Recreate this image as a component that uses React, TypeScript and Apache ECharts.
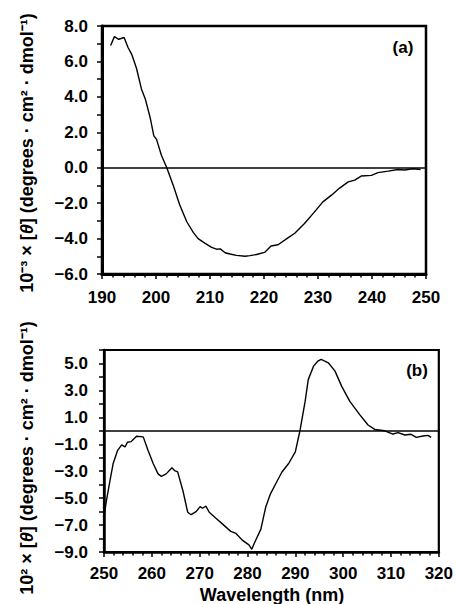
import React, { useEffect, useRef } from "react";
import * as echarts from "echarts";

const aWavelength = [191.6, 192.3, 193.1, 194.1, 194.8, 195.5, 196.4, 197.3, 198.0, 198.9, 199.6, 200.1, 201.0, 202.0, 203.2, 204.4, 205.7, 206.9, 207.8, 209.1, 210.3, 211.2, 211.9, 212.8, 213.7, 214.9, 216.5, 217.4, 218.6, 220.1, 221.3, 222.6, 224.5, 225.7, 227.5, 229.2, 230.9, 232.5, 234.0, 235.6, 236.8, 238.0, 239.9, 241.1, 243.0, 244.8, 246.0, 247.6, 249.0];
const aTheta = [6.9, 7.4, 7.25, 7.35, 6.8, 6.4, 5.6, 4.45, 3.9, 2.85, 1.8, 1.6, 0.7, 0.0, -1.0, -2.1, -3.05, -3.65, -4.0, -4.27, -4.5, -4.6, -4.58, -4.8, -4.87, -4.95, -5.0, -4.96, -4.9, -4.78, -4.42, -4.35, -3.95, -3.7, -3.15, -2.55, -1.93, -1.55, -1.15, -0.8, -0.7, -0.47, -0.43, -0.28, -0.19, -0.1, -0.13, -0.06, -0.1];

const bWavelength = [250.0, 250.5, 251.25, 251.9, 252.85, 253.7, 254.4, 254.9, 255.7, 256.8, 258.2, 259.2, 260.3, 261.3, 262.0, 263.0, 264.2, 264.75, 265.4, 266.5, 267.5, 268.2, 269.25, 270.1, 270.6, 271.3, 272.0, 273.4, 274.8, 276.5, 277.6, 278.9, 280.3, 280.9, 281.4, 282.8, 283.8, 284.8, 285.9, 287.2, 288.6, 290.0, 291.0, 292.05, 292.7, 293.8, 294.7, 295.4, 296.9, 298.3, 299.7, 301.4, 303.5, 305.2, 306.6, 308.7, 310.4, 311.5, 312.9, 314.2, 315.3, 316.7, 317.7, 318.4];
const bTheta = [-6.4, -5.2, -3.7, -2.45, -1.45, -1.05, -1.2, -0.85, -0.8, -0.4, -0.45, -1.45, -2.45, -3.2, -3.38, -3.2, -2.75, -2.95, -3.05, -4.45, -6.05, -6.23, -6.0, -5.63, -5.75, -5.6, -6.05, -6.5, -6.93, -7.47, -7.62, -8.12, -8.47, -8.8, -8.37, -7.3, -5.68, -4.68, -3.93, -3.06, -2.43, -1.56, 0.06, 2.18, 3.8, 4.8, 5.17, 5.3, 5.05, 4.43, 3.3, 2.18, 1.18, 0.43, 0.1, 0.0, -0.24, -0.14, -0.31, -0.26, -0.49, -0.39, -0.34, -0.49];

const yTitleA = "10\u207B\u00B3 \u00D7 [{i|\u03B8}] (degrees \u00B7 cm\u00B2 \u00B7 dmol\u207B\u00B9)";
const yTitleB = "10\u00B2 \u00D7 [{i|\u03B8}] (degrees \u00B7 cm\u00B2 \u00B7 dmol\u207B\u00B9)";
const xTitle = "Wavelength (nm)";

const FONT = "'Liberation Sans', Arial, Helvetica, sans-serif";

function fmt(v: number) {
  return v.toFixed(1).replace("-", "\u2212");
}

export default function App() {
  const ref = useRef<HTMLDivElement>(null);
  useEffect(() => {
    document.body.style.margin = "0";
    const chart = echarts.init(ref.current!, null, { renderer: "svg" });
    const axisCommon = (w: number) => ({
      axisLine: { show: true, onZero: false, lineStyle: { color: "#000", width: w } },
      axisTick: { show: true, inside: false, length: 5, lineStyle: { color: "#000", width: 1.5 } },
      splitLine: { show: false },
    });
    const labelStyle = { color: "#000", fontSize: 17, fontWeight: "bold" as const, fontFamily: FONT };
    const zeroLine = {
      silent: true,
      symbol: ["none", "none"],
      label: { show: false },
      lineStyle: { color: "#000", width: 1.6, type: "solid" as const },
      data: [{ yAxis: 0 }],
    };
    const titleStyle = (text: string) => ({
      text, align: "center", verticalAlign: "middle",
      fontSize: 18, fontWeight: "bold", fontFamily: FONT, fill: "#000",
      rich: { i: { fontStyle: "italic", fontWeight: "bold", fontSize: 18, fontFamily: FONT, fill: "#000" } },
    });
    chart.setOption({
      animation: false,
      grid: [
        { left: 102, top: 26, width: 324, height: 248, show: true, borderColor: "#000", borderWidth: 2.5 },
        { left: 104, top: 350, width: 337, height: 202, show: true, borderColor: "#000", borderWidth: 2.2 },
      ],
      xAxis: [
        {
          type: "value", gridIndex: 0, min: 190, max: 250, interval: 10,
          ...axisCommon(3),
          minorTick: { show: true, splitNumber: 5, length: 3.5, lineStyle: { color: "#000", width: 1.5 } },
          axisLabel: { ...labelStyle, margin: 15 },
        },
        {
          type: "value", gridIndex: 1, min: 250, max: 320, interval: 10,
          ...axisCommon(2.5),
          minorTick: { show: true, splitNumber: 5, length: 3.5, lineStyle: { color: "#000", width: 1.5 } },
          axisLabel: { ...labelStyle, margin: 13 },
        },
      ],
      yAxis: [
        {
          type: "value", gridIndex: 0, min: -6, max: 8, interval: 1,
          ...axisCommon(3),
          axisLabel: {
            ...labelStyle, margin: 14,
            formatter: (v: number) => (Math.round(v) % 2 === 0 ? fmt(v) : ""),
          },
        },
        {
          type: "value", gridIndex: 1, min: -9, max: 6, interval: 1,
          ...axisCommon(2.5),
          axisLabel: {
            ...labelStyle, margin: 16,
            formatter: (v: number) => (Math.round(v) % 2 !== 0 ? fmt(v) : ""),
          },
        },
      ],
      series: [
        {
          type: "line", xAxisIndex: 0, yAxisIndex: 0, showSymbol: false, symbol: "none",
          lineStyle: { color: "#000", width: 1.4 },
          data: aWavelength.map((x, i) => [x, aTheta[i]]),
          markLine: zeroLine,
        },
        {
          type: "line", xAxisIndex: 1, yAxisIndex: 1, showSymbol: false, symbol: "none",
          lineStyle: { color: "#000", width: 1.4 },
          data: bWavelength.map((x, i) => [x, bTheta[i]]),
          markLine: zeroLine,
        },
      ],
      graphic: [
        { type: "text", x: 27, y: 153, rotation: Math.PI / 2, style: titleStyle(yTitleA) },
        { type: "text", x: 27, y: 458, rotation: Math.PI / 2, style: titleStyle(yTitleB) },
        {
          type: "text", x: 403, y: 47,
          style: { text: "(a)", align: "center", verticalAlign: "middle", fontSize: 17, fontWeight: "bold", fontFamily: FONT, fill: "#000" },
        },
        {
          type: "text", x: 417, y: 370,
          style: { text: "(b)", align: "center", verticalAlign: "middle", fontSize: 17, fontWeight: "bold", fontFamily: FONT, fill: "#000" },
        },
        {
          type: "text", x: 272, y: 595,
          style: { text: xTitle, align: "center", verticalAlign: "middle", fontSize: 18, fontWeight: "bold", fontFamily: FONT, fill: "#000" },
        },
      ],
    });
    return () => chart.dispose();
  }, []);
  return <div ref={ref} style={{ position: "absolute", left: 0, top: 0, width: 456, height: 604 }} />;
}
